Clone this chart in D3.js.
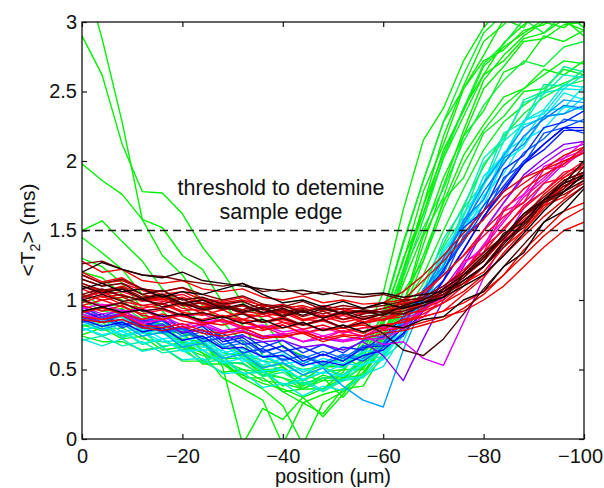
<!DOCTYPE html>
<html>
<head>
<meta charset="utf-8">
<title>T2 profiles</title>
<script src="https://d3js.org/d3.v7.min.js"></script>
<style>
  body { margin: 0; background: #fff; }
  svg { font-family: "Liberation Sans", Arial, Helvetica, sans-serif; }
  .axis text { font-size: 20px; fill: #111; }
  .axis line { stroke: #111; stroke-width: 1.2; }
  .axis path { display: none; }
</style>
</head>
<body>
<script>
// positions along the sample (um), one value every 4 um
var positions = [0,-4,-8,-12,-16,-20,-24,-28,-32,-36,-40,-44,-48,-52,-56,-60,-64,-68,-72,-76,-80,-84,-88,-92,-96,-100];

// <T2> profiles, in units of 0.01 ms, grouped by colour
var greenT2 = [
  [340,288,228,158,132,118,96,84,70,48,52,36,44,30,46,72,118,168,205,238,262,285,298,310,318,326],
  [290,262,212,178,177,162,138,120,98,86,66,60,54,58,52,88,128,178,212,252,276,302,296,318,322,330],
  [198,186,176,158,152,132,122,98,82,60,52,42,52,44,58,92,142,186,228,252,272,280,294,298,308,296],
  [150,157,142,128,108,96,82,74,58,50,34,26,32,36,48,66,98,132,170,204,226,246,252,266,262,272],
  [145,134,122,104,92,78,70,52,-4,22,14,30,16,32,52,82,122,162,208,236,268,282,292,302,300,312],
  [130,124,112,94,86,68,62,44,36,28,-4,26,18,36,38,62,96,140,182,222,258,276,290,300,296,306],
  [120,116,104,92,78,76,64,56,44,36,24,-4,26,34,46,68,122,168,218,254,286,298,312,304,300,294],
  [110,106,100,88,82,70,62,54,46,40,36,30,36,48,72,105,165,215,238,272,296,312,322,318,312,306],
  [100,92,94,82,80,72,70,58,58,46,50,38,46,42,58,74,112,148,188,218,252,268,286,288,298,300],
  [95,88,90,80,80,70,68,58,58,48,50,42,52,52,68,84,130,162,202,232,262,272,288,292,302,290],
  [81,84,74,78,66,70,56,60,46,50,38,46,42,50,50,74,96,146,174,218,236,264,270,290,286,294],
  [75,80,72,74,64,66,54,54,44,44,34,36,36,44,46,66,92,128,166,198,222,240,252,262,272,270],
  [74,70,70,64,66,56,56,48,50,42,40,36,44,44,56,72,106,128,172,188,220,232,250,252,266,262],
  [92,86,88,78,78,68,70,60,62,52,54,46,54,52,62,76,96,118,150,180,208,228,240,250,256,262],
  [104,96,96,86,86,76,74,62,60,50,50,42,48,50,64,90,140,186,228,262,292,306,302,300,312,314],
  [88,84,84,76,76,70,68,56,54,46,44,36,42,42,52,68,116,158,202,238,270,284,302,292,306,296],
  [82,78,80,72,70,66,60,56,50,48,44,40,44,46,54,66,88,112,140,168,196,218,234,246,254,258],
  [96,92,90,84,82,76,72,66,62,56,54,50,52,56,62,82,120,152,180,214,240,258,272,268,282,286]
];

var cyanT2 = [
  [80,74,78,68,72,64,64,54,55,45,48,39,44,42,53,58,84,102,138,160,198,214,244,250,268,264],
  [71,74,67,70,62,64,55,57,47,48,39,41,34,42,44,58,70,104,124,166,184,220,228,255,254,266],
  [85,78,83,74,77,66,69,58,61,51,55,46,51,46,58,59,89,106,144,166,202,216,242,248,262,260],
  [78,82,73,77,67,68,57,59,47,49,39,43,35,43,45,61,75,106,125,162,182,214,227,249,252,262],
  [72,67,72,63,66,57,58,47,48,37,40,31,38,35,46,52,75,93,127,149,183,203,229,237,255,253],
  [88,81,85,76,79,68,71,60,63,53,58,48,55,51,61,62,86,101,134,154,189,204,229,234,252,251],
  [78,82,75,77,70,71,64,64,56,56,49,50,47,54,53,64,76,102,120,154,172,206,216,236,238,254],
  [90,84,88,78,81,71,73,62,65,56,61,52,58,54,63,64,89,104,136,156,189,201,226,231,249,244],
  [82,86,77,80,72,74,66,68,58,60,54,56,51,58,57,68,76,104,118,152,168,200,210,232,234,246],
  [80,75,78,69,72,63,64,55,58,49,50,43,48,45,54,57,79,95,125,143,175,191,215,223,239,237]
];

var blueT2 = [
  [85,79,83,74,77,66,69,58,61,51,55,46,51,38,28,23,64,98,130,156,184,204,224,232,244,242],
  [84,88,81,85,76,79,70,73,62,65,56,60,55,61,58,68,80,108,124,158,172,202,212,232,234,240],
  [90,84,89,80,83,74,77,66,69,59,63,54,61,56,65,69,86,106,130,154,178,198,218,230,240,238],
  [92,86,91,81,85,76,79,68,71,62,67,58,63,58,67,69,84,100,122,144,168,186,206,216,230,228],
  [84,88,80,85,77,80,70,73,62,65,57,60,53,60,56,66,74,100,114,146,158,188,198,220,224,230],
  [95,88,93,84,89,79,83,72,75,66,71,62,68,62,71,73,88,102,122,142,164,182,200,212,224,220],
  [86,90,82,86,78,81,72,76,68,70,63,66,60,66,64,74,82,106,120,152,164,194,204,224,228,236],
  [93,86,90,81,86,76,81,70,73,63,67,56,61,56,66,67,80,94,114,136,160,178,198,208,222,222],
  [86,81,84,77,80,71,74,65,66,59,60,53,56,53,60,64,76,92,114,136,160,180,198,212,224,224]
];

var magentaT2 = [
  [88,84,86,80,82,77,78,72,74,70,71,66,68,64,70,60,42,72,100,124,150,170,190,202,212,214],
  [92,88,90,84,86,80,82,77,78,73,75,70,72,70,74,74,82,92,108,128,150,170,188,198,208,212],
  [95,90,92,86,88,82,84,78,80,74,76,70,74,71,74,68,70,58,53,84,116,142,166,184,198,206],
  [94,97,92,94,88,90,84,86,80,82,77,79,74,78,74,79,80,94,102,126,138,166,176,196,202,214],
  [90,86,89,83,86,80,82,76,78,72,76,70,74,70,72,72,79,88,102,120,140,158,176,188,202,208],
  [100,96,98,92,94,88,90,84,86,80,82,76,80,76,80,80,86,92,104,120,138,156,174,186,200,206],
  [92,95,90,93,86,89,83,85,79,81,75,78,72,78,74,81,80,96,102,128,134,164,170,194,196,208]
];

var redT2 = [
  [110,104,106,101,99,97,95,96,90,88,92,86,85,89,84,88,90,98,106,120,138,150,168,178,192,196],
  [101,106,99,96,98,92,94,88,86,90,84,82,86,80,83,86,94,104,118,132,146,160,170,184,188,198],
  [115,110,112,107,102,104,98,96,99,93,91,95,88,92,90,92,96,102,110,122,134,152,166,178,190,200],
  [96,100,95,90,93,88,86,89,84,80,84,79,82,77,80,82,84,90,98,110,124,142,156,172,180,192],
  [120,113,116,108,106,109,101,99,102,95,97,92,96,93,90,94,98,100,108,118,130,146,160,170,184,190],
  [108,102,104,99,101,94,92,96,90,88,91,85,88,84,87,85,92,98,108,118,132,144,158,168,182,188],
  [91,94,90,86,90,85,82,86,81,78,82,76,79,80,76,82,84,88,92,104,116,134,150,166,178,190],
  [112,106,110,104,100,102,97,93,96,91,88,92,87,90,86,90,94,96,104,116,128,144,160,176,188,196],
  [98,103,97,94,97,91,89,93,86,84,88,82,86,80,84,86,88,94,100,112,120,138,150,168,174,186],
  [88,86,89,82,80,83,78,76,80,74,73,77,72,75,74,78,80,84,88,92,100,110,124,138,150,156],
  [128,120,122,114,112,114,108,106,108,102,100,103,98,100,97,98,100,106,118,132,150,164,180,190,198,210],
  [96,92,96,89,86,90,84,82,86,79,80,83,78,80,82,79,86,88,92,98,106,118,136,150,164,170],
  [104,100,102,96,94,97,90,88,91,84,86,82,85,80,86,90,100,114,128,144,158,174,184,194,200,206],
  [110,106,108,100,102,96,95,98,92,90,93,86,89,86,88,86,90,92,98,106,118,132,146,160,172,182],
  [86,84,86,80,78,81,76,74,77,72,74,76,70,74,72,76,78,82,86,94,104,118,132,146,158,166],
  [118,112,114,108,104,106,100,98,100,96,94,96,92,94,94,98,106,118,132,148,164,178,188,194,204,210]
];

var blackT2 = [
  [112,107,109,102,104,98,100,96,93,97,91,94,90,94,91,94,97,100,108,118,130,146,160,172,182,188],
  [102,107,103,100,103,96,98,93,96,90,93,88,92,86,90,92,94,98,104,114,124,142,154,170,176,184],
  [118,112,115,108,106,109,104,100,103,97,95,99,93,96,94,96,99,102,110,120,134,146,162,174,186,192],
  [126,128,122,118,117,114,112,110,112,106,108,104,106,103,102,104,100,101,104,112,124,138,154,170,180,196],
  [104,108,103,100,97,101,94,96,92,95,89,93,87,92,88,90,92,96,102,114,124,142,152,170,178,190],
  [115,110,112,104,107,100,102,97,99,93,96,91,95,90,93,91,95,98,106,116,130,144,160,172,186,192],
  [100,95,98,92,94,89,91,87,90,84,87,82,86,80,84,76,64,60,72,90,108,124,140,156,170,182],
  [100,104,99,101,95,98,93,95,91,94,88,92,87,91,86,90,90,96,102,118,128,148,156,172,178,186],
  [110,105,108,101,104,97,100,94,97,91,94,89,94,90,92,89,96,100,108,118,132,146,162,172,184,190],
  [120,127,122,118,116,120,114,112,110,108,106,107,104,106,104,105,102,104,106,114,124,140,156,172,184,200],
  [92,95,91,93,88,90,85,88,83,86,80,84,78,82,77,82,80,86,88,100,106,124,134,156,164,180],
  [108,112,106,108,102,106,104,108,112,104,98,100,95,99,94,98,94,98,102,110,118,132,148,164,178,190]
];

var xTicks = [0, -20, -40, -60, -80, -100];
var xTickLabels = ["0", "\u221220", "\u221240", "\u221260", "\u221280", "\u2212100"];
var yTicks = [0, 0.5, 1, 1.5, 2, 2.5, 3];
var yTickLabels = ["0", "0.5", "1", "1.5", "2", "2.5", "3"];
var threshold = 1.5;

var outerWidth = 604, outerHeight = 488;
var plotLeft = 82, plotRight = 584, plotTop = 22, plotBottom = 439;

var x = d3.scaleLinear().domain([0, -100]).range([plotLeft, plotRight]);
var y = d3.scaleLinear().domain([0, 3]).range([plotBottom, plotTop]);

var svg = d3.select("body").append("svg")
    .attr("width", outerWidth)
    .attr("height", outerHeight);

svg.append("rect").attr("width", outerWidth).attr("height", outerHeight).attr("fill", "#fff");

svg.append("clipPath").attr("id", "plotclip")
  .append("rect")
    .attr("x", plotLeft).attr("y", plotTop)
    .attr("width", plotRight - plotLeft).attr("height", plotBottom - plotTop);

var groups = [
  { lines: greenT2, colours: ["#00f000", "#00f000", "#10f040"] },
  { lines: cyanT2, colours: ["#00f090", "#00e8e8", "#00f0ff"] },
  { lines: blueT2, colours: ["#00a0ff", "#0050ff", "#0000ff"] },
  { lines: magentaT2, colours: ["#8000ff", "#ff00ff", "#ff0080"] },
  { lines: redT2, colours: ["#ff0030", "#ff0000", "#e00000"] },
  { lines: blackT2, colours: ["#a00000", "#500000", "#000000"] }
];

var line = d3.line()
    .x(function (d, i) { return x(positions[i]); })
    .y(function (d) { return y(d / 100); });

var plot = svg.append("g").attr("clip-path", "url(#plotclip)");

groups.forEach(function (g) {
    var colour = d3.piecewise(d3.interpolateRgb, g.colours);
    var n = g.lines.length;
    plot.selectAll(null)
        .data(g.lines)
        .enter().append("path")
        .attr("d", line)
        .attr("fill", "none")
        .attr("stroke", function (d, i) { return colour(n > 1 ? i / (n - 1) : 0); })
        .attr("stroke-width", 1.4)
        .attr("stroke-linejoin", "round");
});

// threshold line
svg.append("line")
    .attr("x1", plotLeft).attr("x2", plotRight)
    .attr("y1", y(threshold)).attr("y2", y(threshold))
    .attr("stroke", "#111")
    .attr("stroke-width", 1.3)
    .attr("stroke-dasharray", "8,5");

svg.append("text")
    .attr("x", 281).attr("y", 195)
    .attr("text-anchor", "middle")
    .attr("font-size", 21.5)
    .attr("fill", "#111")
    .text("threshold to detemine");
svg.append("text")
    .attr("x", 281).attr("y", 219)
    .attr("text-anchor", "middle")
    .attr("font-size", 21.5)
    .attr("fill", "#111")
    .text("sample edge");

// axes, MATLAB style box with inward ticks
var xAxisG = svg.append("g").attr("class", "axis")
    .attr("transform", "translate(0," + plotBottom + ")")
    .call(d3.axisBottom(x).tickValues(xTicks).tickSize(-5).tickPadding(10)
        .tickFormat(function (d, i) { return xTickLabels[i]; }));
// keep the last label inside the picture
xAxisG.selectAll(".tick text").filter(function (d) { return d === -100; }).attr("dx", -4);

svg.append("g").attr("class", "axis")
    .attr("transform", "translate(0," + plotTop + ")")
    .call(d3.axisTop(x).tickValues(xTicks).tickSize(-5).tickFormat(""));
svg.append("g").attr("class", "axis")
    .attr("transform", "translate(" + plotLeft + ",0)")
    .call(d3.axisLeft(y).tickValues(yTicks).tickSize(-5).tickPadding(5)
        .tickFormat(function (d, i) { return yTickLabels[i]; }));
svg.append("g").attr("class", "axis")
    .attr("transform", "translate(" + plotRight + ",0)")
    .call(d3.axisRight(y).tickValues(yTicks).tickSize(-5).tickFormat(""));

svg.append("rect")
    .attr("x", plotLeft).attr("y", plotTop)
    .attr("width", plotRight - plotLeft).attr("height", plotBottom - plotTop)
    .attr("fill", "none")
    .attr("stroke", "#111")
    .attr("stroke-width", 1.3);

svg.append("text")
    .attr("x", (plotLeft + plotRight) / 2).attr("y", 483)
    .attr("text-anchor", "middle")
    .attr("font-size", 20)
    .attr("fill", "#111")
    .text("position (\u03bcm)");

var ylab = svg.append("text")
    .attr("transform", "translate(35,230) rotate(-90)")
    .attr("text-anchor", "middle")
    .attr("font-size", 21)
    .attr("fill", "#111");
ylab.append("tspan").text("<T");
ylab.append("tspan").attr("font-size", 14).attr("dy", 5).text("2");
ylab.append("tspan").attr("dy", -5).text("> (ms)");
</script>
</body>
</html>
